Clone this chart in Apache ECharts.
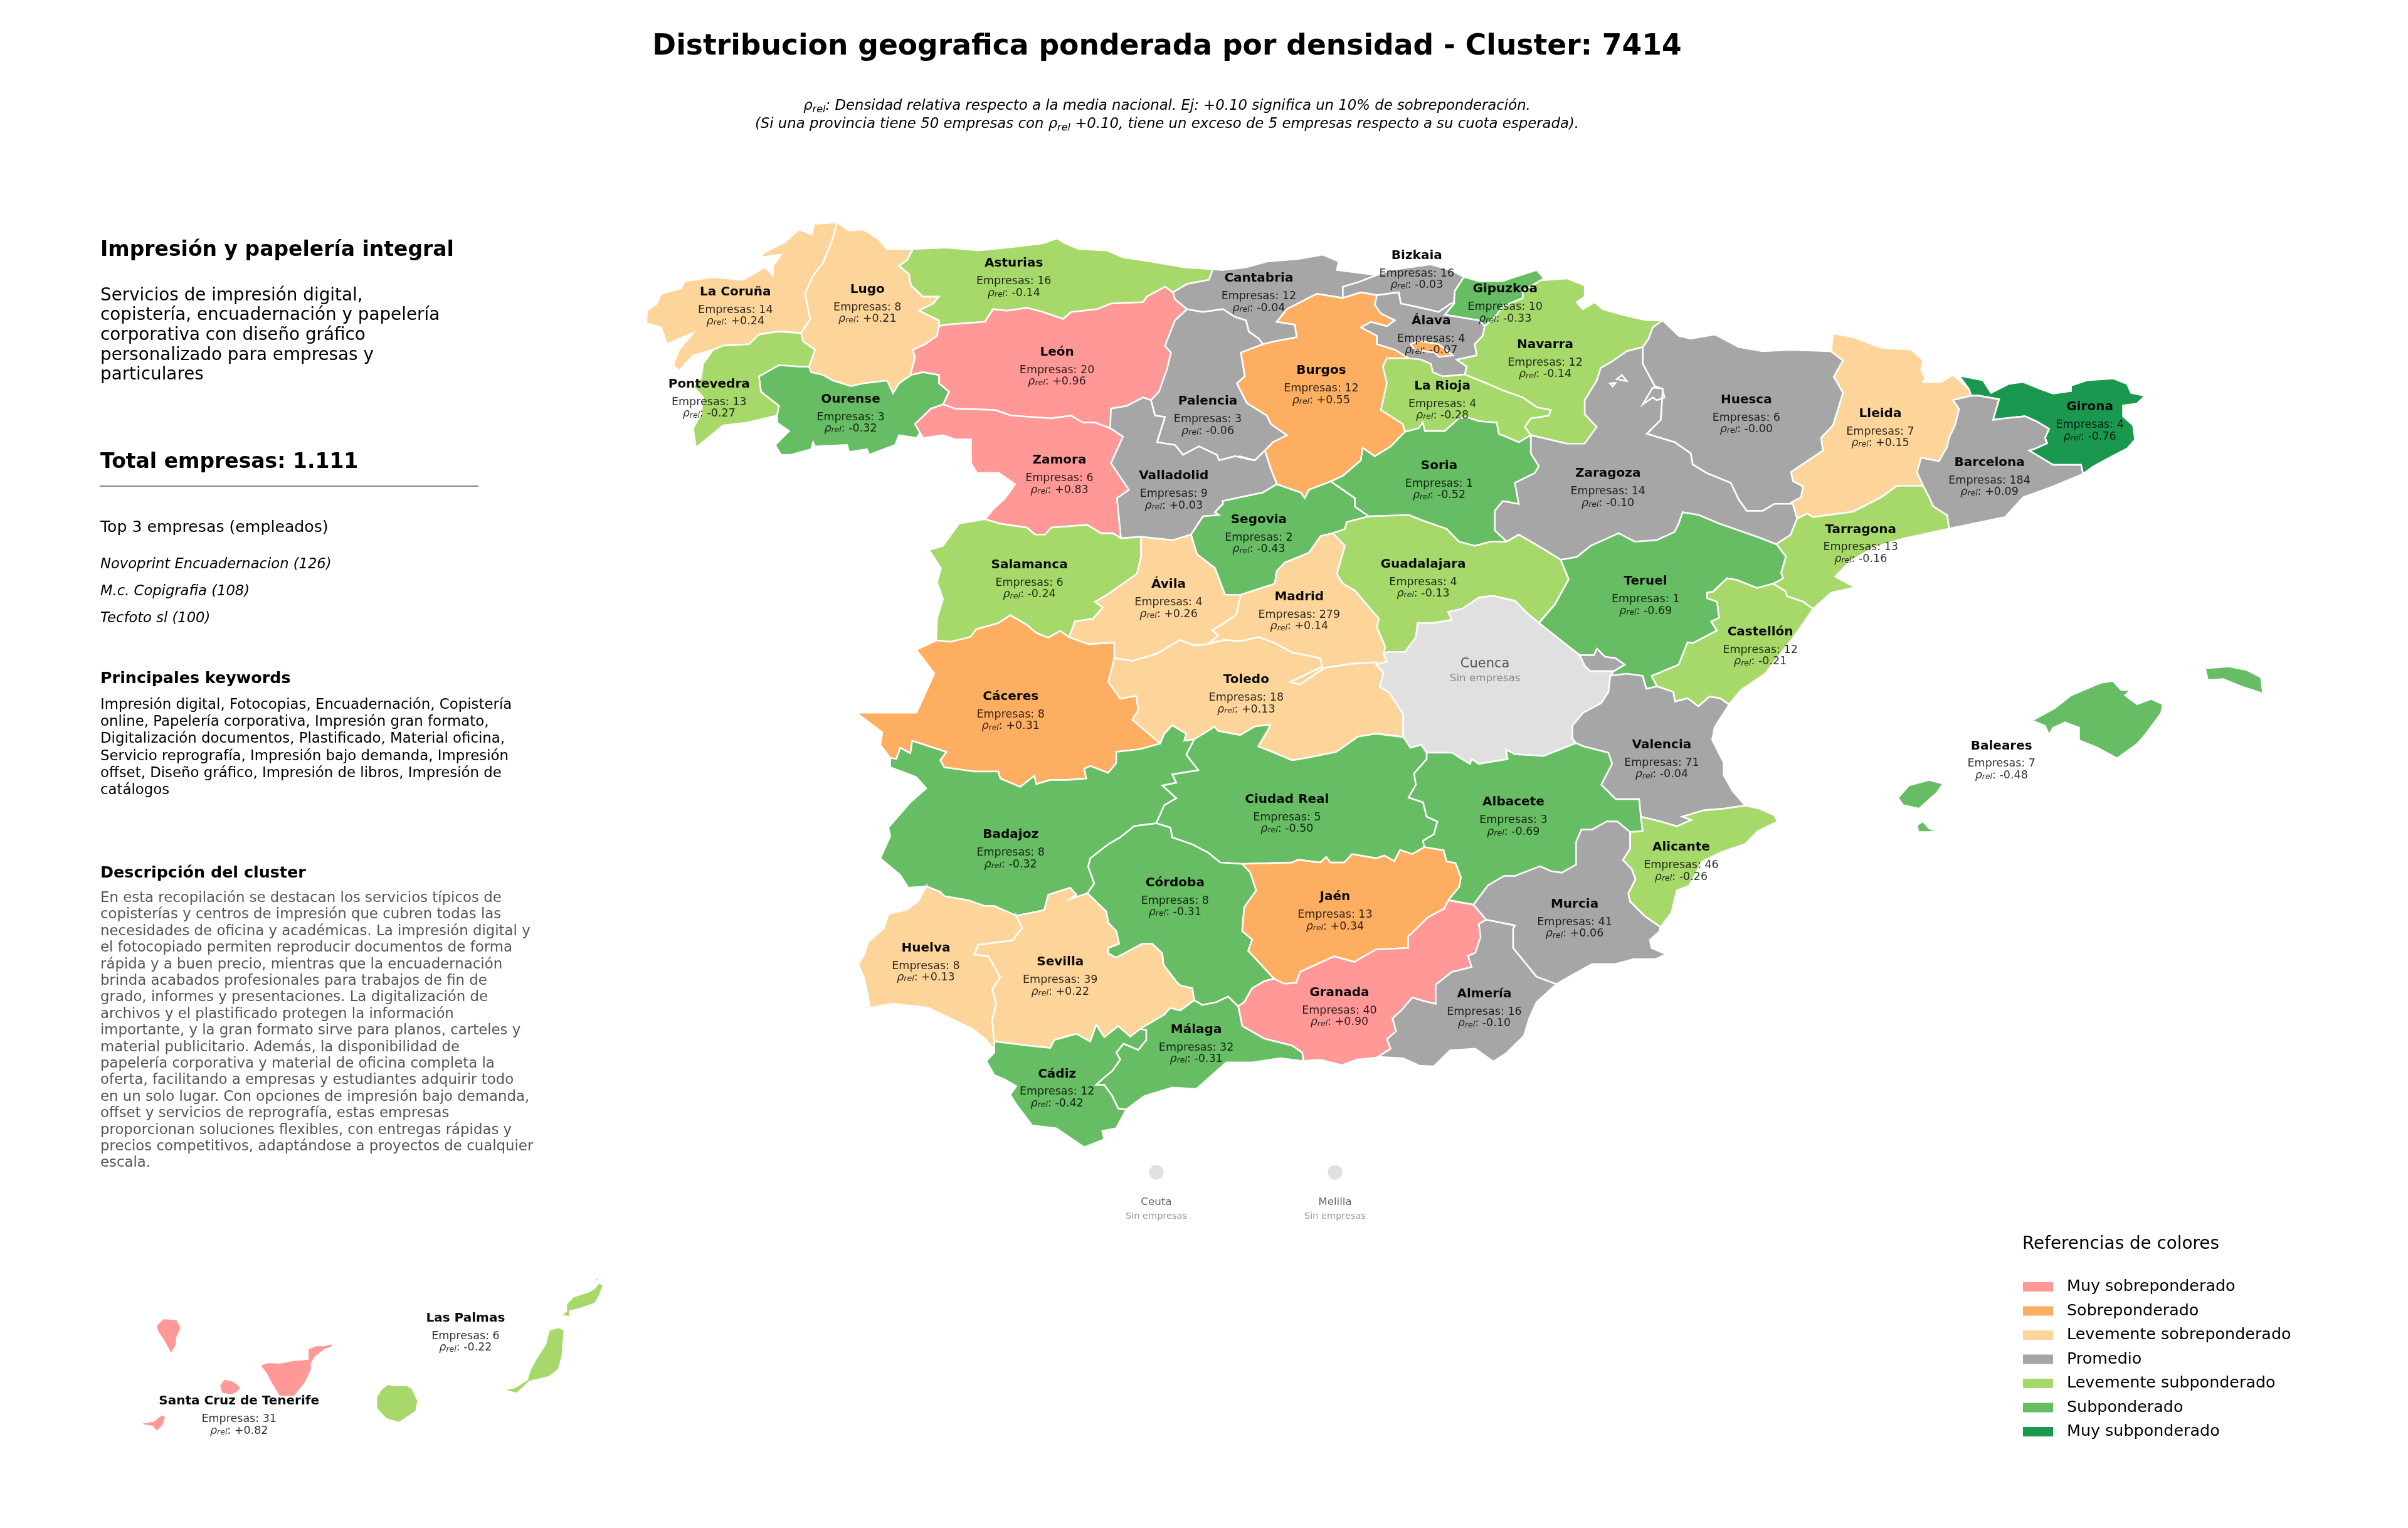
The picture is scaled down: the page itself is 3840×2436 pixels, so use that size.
<!DOCTYPE html>
<html>
<head>
<meta charset="utf-8">
<title>Distribucion geografica</title>
<script src="https://cdn.jsdelivr.net/npm/echarts@6/dist/echarts.min.js"></script>
<style>html,body{margin:0;background:#fff}#chart{width:3840px;height:2436px}</style>
</head>
<body>
<div id="chart"></div>
<script>
// ---- data ----
const provinces = ['Ceuta','Melilla','La Coruña','Lugo','Asturias','Cantabria','Bizkaia','Gipuzkoa','Álava','Navarra','La Rioja','Burgos','León','Pontevedra','Ourense','Palencia','Huesca','Lleida','Girona','Barcelona','Zaragoza','Zamora','Soria','Valladolid','Segovia','Tarragona','Salamanca','Guadalajara','Teruel','Ávila','Madrid','Castellón','Toledo','Cáceres','Cuenca','Valencia','Baleares','Ciudad Real','Albacete','Badajoz','Alicante','Córdoba','Jaén','Murcia','Huelva','Sevilla','Granada','Almería','Málaga','Cádiz','Las Palmas','Santa Cruz de Tenerife'];
const empresas = [null,null,14,8,16,12,16,10,4,12,4,12,20,13,3,3,6,7,4,184,14,6,1,9,2,13,6,4,1,4,279,12,18,8,null,71,7,5,3,8,46,8,13,41,8,39,40,16,32,12,6,31];
const rhoRel = [null,null,0.24,0.21,-0.14,-0.04,-0.03,-0.33,-0.07,-0.14,-0.28,0.55,0.96,-0.27,-0.32,-0.06,-0.004,0.15,-0.76,0.09,-0.10,0.83,-0.52,0.03,-0.43,-0.16,-0.24,-0.13,-0.69,0.26,0.14,-0.21,0.13,0.31,null,-0.04,-0.48,-0.50,-0.69,-0.32,-0.26,-0.31,0.34,0.06,0.13,0.22,0.90,-0.10,-0.31,-0.42,-0.22,0.82];

const tierLabels = ['Muy sobreponderado','Sobreponderado','Levemente sobreponderado','Promedio','Levemente subponderado','Subponderado','Muy subponderado'];
const tierColors = ['#FF9896','#FDAE61','#FDD49A','#A6A6A6','#A6D96A','#66BD63','#1A9850'];

const topCompanies = ['Novoprint Encuadernacion (126)','M.c. Copigrafia (108)','Tecfoto sl (100)'];
const summaryLines = ['Servicios de impresión digital,','copistería, encuadernación y papelería','corporativa con diseño gráfico','personalizado para empresas y','particulares'];
const keywordLines = ['Impresión digital, Fotocopias, Encuadernación, Copistería','online, Papelería corporativa, Impresión gran formato,','Digitalización documentos, Plastificado, Material oficina,','Servicio reprografía, Impresión bajo demanda, Impresión','offset, Diseño gráfico, Impresión de libros, Impresión de','catálogos'];
const descriptionLines = ['En esta recopilación se destacan los servicios típicos de','copisterías y centros de impresión que cubren todas las','necesidades de oficina y académicas. La impresión digital y','el fotocopiado permiten reproducir documentos de forma','rápida y a buen precio, mientras que la encuadernación','brinda acabados profesionales para trabajos de fin de','grado, informes y presentaciones. La digitalización de','archivos y el plastificado protegen la información','importante, y la gran formato sirve para planos, carteles y','material publicitario. Además, la disponibilidad de','papelería corporativa y material de oficina completa la','oferta, facilitando a empresas y estudiantes adquirir todo','en un solo lugar. Con opciones de impresión bajo demanda,','offset y servicios de reprografía, estas empresas','proporcionan soluciones flexibles, con entregas rápidas y','precios competitivos, adaptándose a proyectos de cualquier','escala.'];

// ---- map outline, traced by hand: no geojson available offline ----
// each trace is written in the pixels of the crop it was read from
const crops = {
  z1: [1000, 330, 1.568, 2.24], z2: [1950, 330, 1.568, 2.24], z3: [2700, 500, 1.568, 1.742],
  z4: [1340, 980, 1.568, 2.24], z5: [2100, 950, 1.742, 1.96], z6: [1340, 1350, 1.568, 2.24],
  z7: [100, 1950, 1.65, 3]
};
function at(crop, x, y) {
  const c = crops[crop];
  return [c[0] + x / c[2], c[1] + y / c[3]];
}
function tr(crop, str) {
  return str.trim().split(/\s+/).map(p => {
    const v = p.split(',').map(Number);
    return at(crop, v[0], v[1]);
  });
}

const arcs = {
  coruCoast: tr('z1', '525,55 468,60 462,98 430,80 395,125 340,165 335,180 385,170 365,210 365,245 345,215 290,260 215,250 145,265 135,290 85,310 75,345 50,370 48,415 85,430 100,490 130,470 165,450 130,510 115,565 130,585 165,530 215,510'),
  coruPont: tr('z1', '215,510 240,495 305,490 330,455 375,445 435,450'),
  coruLugo: tr('z1', '435,450 458,400 445,310 465,245 490,200 515,110 525,55'),
  lugoCoast: tr('z1', '525,55 555,85 590,80 625,110 650,150 715,150'),
  lugoAst: tr('z1', '715,150 700,190 680,210 705,240 710,280 740,320 780,320 765,345 730,370 780,405 780,425'),
  lugoLeon: tr('z1', '780,425 775,460 745,490 715,510 720,540 710,590 710,600'),
  lugoOur: tr('z1', '710,600 680,630 665,665 650,620 590,630 560,640 515,620 490,600 460,590 455,570'),
  lugoPont: tr('z1', '455,570 470,510 440,480 435,450'),
  astCoast: tr('z1', '715,150 800,145 880,155 950,145 1040,130 1075,112 1095,130 1130,150 1200,155 1240,180 1310,195 1390,215 1465,222'),
  astCant: tr('z1', '1465,222 1455,260 1400,275 1365,305'),
  astLeon: tr('z1', '1365,305 1345,285 1300,320 1290,340 1210,345 1175,365 1110,375 1090,400 1040,375 1000,360 950,370 915,365 895,410 800,420 780,425'),
  leonCant: tr('z1', '1365,305 1370,330 1400,365'),
  leonPal: tr('z1', '1400,365 1370,405 1355,460 1345,495 1360,520 1350,580 1330,660 1310,690'),
  leonVall: tr('z1', '1310,690 1290,680 1250,710 1210,720 1208,790'),
  leonZam: tr('z1', '1208,790 1170,770 1140,770 1110,745 1060,755 960,745 920,725 820,720 790,705'),
  leonOur: tr('z1', '790,705 805,660 780,630 780,600 740,590 710,600'),
  ourPont: tr('z1', '455,570 430,570 380,565 330,605 335,660 380,710 375,745'),
  ourSouth: tr('z1', '375,745 375,770 405,800 370,850 385,885 410,885 460,865 465,840 470,855 550,850 555,875 600,865 605,885 670,850 680,815 725,825 735,795 720,775'),
  ourZam: tr('z1', '720,775 760,720 790,705'),
  pontCoast: tr('z1', '215,510 190,560 185,610 165,640 190,680 185,740 165,790 172,860 215,810 240,780 300,770 375,745'),
  zamVall: tr('z1', '1208,790 1240,820 1210,915 1255,1010 1225,1040 1235,1183'),
  zamSal: tr('z1', '1235,1183 1215,1165 1185,1165 1150,1135 1060,1145 1045,1170 1020,1170 1000,1145 930,1130 895,1115'),
  zamWest: tr('z1', '895,1115 915,1080 945,1040 970,990 930,950 875,950 860,915 860,830 820,830 790,815 740,825 720,775'),
  salVall: tr('z1', '1235,1183 1285,1178'),
  salAvila: tr('z1', '1285,1178 1285,1250 1275,1310 1240,1345 1200,1385 1170,1410 1190,1430 1165,1470 1120,1480 1105,1537'),
  salCac: tr('z4', '572,80 550,58 520,82 490,65 465,35 425,2 395,30 340,52 325,80 275,97 240,92'),
  salWest: tr('z1', '773,1545 775,1470 790,1400 775,1340 785,1290 755,1225 790,1210 830,1130 895,1115'),
  vallPal: tr('z1', '1310,690 1320,745 1345,750 1325,840 1370,850 1390,885 1430,855 1475,885 1480,905 1520,890 1568,905').concat(tr('z2', '40,890 80,905 105,870')),
  vallBur: tr('z2', '105,870 120,935 135,990'),
  vallSeg: tr('z2', '135,990 100,1020 50,1035 0,1050').concat(tr('z1', '1490,1060 1470,1090 1480,1100 1440,1105 1410,1170')),
  vallAvila: tr('z1', '1410,1170 1365,1190 1285,1178'),
  palCant: tr('z1', '1400,365 1440,375 1490,365').concat(tr('z2', '30,392 58,405 65,445 90,470 100,490')),
  palBur: tr('z2', '100,490 45,520 55,605 35,630 60,700 110,745 120,775 160,815 125,840 105,870'),
  cantCoast: tr('z2', '-25,222 0,225 60,215 110,195 190,185 250,170 290,195 285,225 340,235 385,243'),
  cantBiz: tr('z2', '385,243 340,268 300,285 300,325'),
  cantBur: tr('z2', '300,325 235,310 160,365 135,410 180,420 185,465 130,480 100,490'),
  bizCoast: tr('z2', '385,243 420,225 470,215 520,205 570,225 603,250'),
  bizGip: tr('z2', '603,250 580,300 578,345'),
  bizAla: tr('z2', '578,345 570,345 540,375 480,355 445,345 440,305 385,315'),
  bizBur: tr('z2', '385,315 345,305 300,325'),
  alaGip: tr('z2', '578,345 555,385 640,405 655,425'),
  alaNav: tr('z2', '655,425 650,460 630,490 635,530 585,545 610,570 605,598'),
  alaRio: tr('z2', '605,598 550,605 525,590 520,560 495,545 465,540'),
  alaBur: tr('z2', '465,540 430,510 385,490 385,460 345,430 370,410 410,425 430,405 395,380 380,350 385,315'),
  burRio: tr('z2', '465,540 410,540 400,570 410,630 395,725 450,775 455,803'),
  burSor: tr('z2', '455,803 420,855 380,890 350,860 345,905 300,960 270,980'),
  burSeg: tr('z2', '270,980 215,1010 205,1040 195,1020 135,990'),
  gipCoast: tr('z2', '603,250 640,265 700,265 730,250 785,225 803,255 795,262'),
  gipNav: tr('z2', '795,262 750,300 750,325 700,355 680,395 655,425'),
  navCoast: tr('z2', '795,262 830,258 860,255 905,280 905,320 885,340 900,365 930,340 950,365 1000,385 1060,405 1100,405'),
  navHue: tr('z2', '1100,405 1075,430 1065,470 1050,500'),
  navZar: tr('z2', '1050,500 1010,515 975,550 945,575 935,620 905,690 905,740 935,785 905,845 860,845 800,825 770,815'),
  navRio: tr('z2', '770,815 755,785 770,755 815,745 820,725 785,715 750,680 700,655 660,630 605,598'),
  rioSor: tr('z2', '770,815 740,840 690,810 685,770 640,765 610,750 590,755 555,800 505,800 500,770 490,790 455,803'),
  sorSeg: tr('z2', '270,980 300,1010 330,1040 330,1070 365,1105'),
  sorGua: tr('z2', '365,1105 465,1100 500,1120 560,1150 590,1195 630,1210 670,1195 710,1195'),
  sorZar: tr('z2', '710,1195 680,1155 680,1085 700,1050 740,1060 730,985 780,950 790,925 770,880 770,815'),
  segAvila: tr('z1', '1410,1170 1425,1240 1470,1290 1495,1385').concat(tr('z2', '45,1385')),
  segMad: tr('z2', '45,1385 130,1345 135,1300 155,1270 215,1235 245,1175 275,1165'),
  segGua: tr('z2', '275,1165 305,1150 310,1125 365,1105'),
  avCac: tr('z4', '572,80 620,105 685,100 685,155'),
  avTol: tr('z4', '685,155 730,165 790,140 850,90 885,110 920,105'),
  avMad: tr('z4', '920,105 945,75 930,55 960,30 990,0').concat(tr('z2', '45,1385')),
  madGua: tr('z2', '275,1165 305,1210 285,1310 300,1345 330,1370 390,1470 385,1500').concat(tr('z5', '190,160 185,180')),
  madCue: tr('z5', '185,180 195,205 165,215'),
  madTol: tr('z4', '1340,170 1280,175 1210,190 1150,250 1125,240 1205,185 1200,155 1130,135 1085,100 1045,80 1000,95 960,90 920,105'),
  cueTol: tr('z5', '165,215 185,240 175,285 200,300 240,370 240,440'),
  tolCR: tr('z4', '1408,437 1340,425 1295,435 1240,490 1170,510 1130,520 1080,490 1045,470 1070,410 1075,392 1035,400 1000,430 945,415 935,400 925,410 885,445'),
  tolBad: tr('z4', '885,445 860,450 865,425 830,395 810,425 800,460'),
  cacTol: tr('z4', '800,460 730,375 745,340 740,290 700,300 670,240 685,155'),
  cueGua: tr('z5', '185,180 200,175 245,175 275,130 280,85 320,85 375,75 365,50 405,40 450,5 490,0 550,15 585,55 617,85'),
  cueTer: tr('z5', '617,85 690,150 730,185'),
  cueAde: tr('z5', '730,185 745,220 760,235 825,235 815,250'),
  cueVal: tr('z5', '815,250 810,300 790,335 740,365 710,405 710,445 720,460'),
  cueAlb: tr('z5', '720,460 630,500 550,495 525,480 530,510 450,525 430,510 425,525 375,490 305,490'),
  cueCR: tr('z5', '305,490 290,465 260,475 240,440'),
  guaZar: tr('z2', '710,1195 740,1170 800,1220 845,1260'),
  guaTer: tr('z2', '845,1260 865,1330 830,1420 790,1485'),
  zarHue: tr('z2', '1050,500 1050,560 1080,640 1100,650 1095,760 1060,810 1130,840 1170,880 1175,920 1210,950 1270,985 1290,1045 1310,1085 1350,1085 1380,1060 1425,1060'),
  zarLle: tr('z2', '1425,1060 1436,1113'),
  zarTar: tr('z2', '1436,1113 1420,1170 1385,1205'),
  zarTer: tr('z2', '1385,1205 1340,1180 1240,1130 1190,1100 1150,1090 1140,1130 1130,1160 1085,1190 1030,1195 990,1165 920,1210 885,1250 845,1260'),
  huTop: tr('z2', '1100,405 1140,460 1170,470 1230,455 1290,500 1350,515 1420,510 1516,515'),
  huLle: tr('z3', '345,105 375,130 352,175 375,220 350,310 320,345 325,380 245,440 250,465 275,480 270,510 245,525'),
  lleTop: tr('z3', '345,105 350,55 400,65 470,95 545,100 575,130 570,155 580,180 575,190 620,190 650,170 690,210 695,228'),
  lleBar: tr('z3', '695,228 650,240 665,265 655,310 640,345 635,370 615,410 570,400 560,440 575,478'),
  lleTar: tr('z3', '575,478 510,478 470,510 400,550 300,565 285,555 260,570'),
  girNorth: tr('z3', '695,228 690,210 665,172 725,185 745,220 790,195 825,190 870,210 900,222 945,215 945,200 985,185 1050,180 1085,195 1095,220 1130,228 1110,250 1075,255 1075,285 1100,310 1105,350 1085,375 1050,395 1000,425 975,445'),
  girBar: tr('z3', '975,445 970,420 900,420 840,380 855,375 885,360 880,345 890,320 860,300 830,285 785,290 750,295 755,275 765,238 715,228 695,228'),
  barTar: tr('z3', '575,478 590,510 600,535 635,560 640,597'),
  barCoast: tr('z3', '640,597 780,565 825,510 900,480 975,445'),
  tarCoast: tr('z3', '640,597 525,625 450,650 390,690 355,730 405,760 345,775 300,820'),
  tarCas: tr('z3', '300,820 275,800 235,785 230,770 200,750'),
  tarTer: tr('z3', '200,750 225,735 220,720 232,675 208,640'),
  terCas: tr('z3', '200,750 160,762 110,740 85,735 50,772 35,775 35,790 60,800 65,845 45,855 60,880 0,915').concat(tr('z5', '1030,145 1005,215 930,250 945,283')),
  terVal: tr('z5', '945,283 915,290 905,250 860,243 815,250'),
  terAde: tr('z5', '815,250 825,235 855,215 830,195 800,190 778,165 770,185 730,185'),
  casCoast: tr('z3', '300,820 250,900 180,1000 120,1045 90,1085'),
  casVal: tr('z5', '1145,340 1120,320 1090,315 1060,345 1030,320 995,330 990,300 945,283'),
  valCoast: tr('z5', '1145,340 1105,410 1098,450 1130,520 1130,560 1155,610 1190,655'),
  valAli: tr('z5', '1190,655 1130,665 1075,670 1015,690 1040,700 1000,720 955,705 900,690'),
  valAlb: tr('z5', '900,690 895,635 830,635 790,590 820,525 810,490 740,470 720,460'),
  aliCoast: tr('z5', '1190,655 1230,665 1270,685 1280,705 1225,735 1190,775 1125,800 1070,830 1035,905 1000,920 985,990 955,1035'),
  aliMur: tr('z5', '955,1035 910,1000 870,955 865,930 885,885 875,855 850,825 870,790 870,738'),
  aliAlb: tr('z5', '870,738 905,735 900,690'),
  murCoast: tr('z5', '955,1035 950,1050 925,1075 930,1100 970,1120 940,1135 880,1135 830,1150 765,1150 725,1175 665,1213'),
  murAlm: tr('z5', '665,1213 610,1190 545,1100 545,1040 550,1030 470,1012'),
  murGra: tr('z5', '470,1012 435,965'),
  murAlb: tr('z5', '435,965 475,905 520,875 550,875 620,845 650,860 680,865 720,840 720,770 735,730 765,730 805,705 835,705 870,738'),
  albGra: tr('z5', '435,965 365,950'),
  albJae: tr('z5', '365,950 395,910 400,880 385,835 360,830 352,795 298,785'),
  albCR: tr('z5', '298,785 295,765 325,745 335,705 305,690 295,645 255,630 275,590 270,555 305,510 305,490'),
  crJae: tr('z4', '1460,830 1430,855 1400,840 1385,880 1360,860 1340,870 1280,855 1260,885 1225,885 1215,865 1200,885 1145,875 1130,885 1005,890'),
  crCor: tr('z4', '1005,890 950,885 920,850 880,820 830,795 825,760 790,745'),
  crBad: tr('z4', '790,745 810,680 840,655 805,610 840,600 830,570 895,555 865,500 885,445'),
  jaeGra: tr('z4', '1520,1020 1510,1050 1470,1080 1420,1150 1420,1190 1340,1195 1285,1240 1235,1220 1150,1275 1140,1315 1110,1318 1085,1300'),
  jaeCor: tr('z4', '1085,1300 1020,1200 1030,1160 1005,1130 1010,1045 1040,985 1025,920 1005,890'),
  graAlm: tr('z5', '470,1012 450,1025 455,1065 440,1115 420,1125 430,1160 375,1175 330,1215 330,1275 295,1265 265,1255 235,1295 210,1320 220,1360 195,1385 205,1415 170,1440'),
  graCoast: tr('z6', '1345,752 1290,760 1255,780 1200,760 1158,765'),
  graMal: tr('z6', '1158,765 1155,735 1130,710 1060,685 1005,640 995,570'),
  corGra: tr('z6', '995,570 1010,555 1030,505 1060,480 1085,471'),
  almCoast: tr('z5', '665,1213 610,1270 590,1320 575,1375 525,1430 490,1455 440,1415 370,1420 325,1470 285,1468 240,1445 170,1440'),
  badCor: tr('z4', '790,745 735,755 700,795 670,820 625,870 620,900 635,960 618,995'),
  corSev: tr('z4', '618,995 665,1060 670,1100 690,1130 697,1175 670,1190 670,1210 690,1225 755,1175 780,1175 805,1210 808,1250 840,1310').concat(tr('z6', '850,495 880,505 885,548')),
  corMal: tr('z6', '885,548 905,565 940,555 970,535 995,570'),
  badSev: tr('z4', '618,995 575,1015 590,1000 575,975 520,1000 510,1055 440,1075'),
  badHue: tr('z4', '440,1075 385,1040 360,1040 320,1020 260,1005 250,990 215,970'),
  badWest: tr('z4', '215,970 170,975 150,930 100,870 125,790 120,760 175,670 215,620 190,580 125,545 125,512'),
  badCac: tr('z4', '125,512 140,515 150,475 175,495 180,450 265,490 250,520 260,545 335,560 395,560 400,585 450,615 485,575 490,605 525,590 570,590 615,585 610,550 625,540 670,565 690,530 690,490 750,480 800,460'),
  cacWest: tr('z4', '240,92 190,125 235,210 200,320 190,350 40,350 105,420 100,465 125,512'),
  sevHue: tr('z6', '440,246 455,290 430,335 345,350 335,385 370,390 400,465 380,510 390,560 380,620 385,695'),
  huCad: tr('z6', '385,695 390,733'),
  huCoast: tr('z6', '390,733 365,690 330,650 220,575 130,560 75,575 60,470 45,420 60,385 70,340 110,290 120,240 165,225 195,195 215,141'),
  sevMal: tr('z6', '885,548 850,585 825,575 810,600 750,650'),
  sevCad: tr('z6', '750,650 725,678 695,640 660,680 640,635 625,695 590,668 535,690 525,718 470,710 385,695'),
  cadMal: tr('z6', '750,650 765,655 765,690 745,725 708,703 690,735 700,760 680,800 655,830 640,850 660,850 680,890 695,935 715,938'),
  cadCoast: tr('z6', '715,938 690,1005 655,1015 660,1045 610,1073 540,1005 480,995 440,920 425,885 440,855 410,830 385,815 365,765 385,735'),
  malCoast: tr('z6', '1158,765 1100,755 1030,770 965,770 890,865 830,860 760,890 715,938')
};

// a ring is a list of arc names, '-' walks the arc backwards
function ring(names) {
  let out = [];
  names.split(' ').forEach(n => {
    const rev = n[0] === '-';
    const a = arcs[rev ? n.slice(1) : n];
    out = out.concat(rev ? a.slice().reverse() : a);
  });
  out.push(out[0]);
  return out;
}
function shape(crop, str) {
  const p = tr(crop, str);
  p.push(p[0]);
  return p;
}
function disc(cx, cy, r) {
  const p = [];
  for (let i = 0; i <= 36; i++) p.push([cx + r * Math.cos(i * Math.PI / 18), cy + r * Math.sin(i * Math.PI / 18)]);
  return p;
}

const outlines = {
  'Ceuta': [disc(1844, 1869, 13), shape('z6', '770,992 780,996 776,999')],
  'Melilla': [disc(2129, 1869, 13), shape('z6', '1250,1035 1255,1035 1254,1045 1250,1044')],
  'La Coruña': [ring('coruCoast coruPont coruLugo')],
  'Lugo': [ring('lugoCoast lugoAst lugoLeon lugoOur lugoPont coruLugo')],
  'Asturias': [ring('astCoast astCant astLeon -lugoAst')],
  'Cantabria': [ring('-astCant cantCoast cantBiz cantBur -palCant -leonCant')],
  'Bizkaia': [ring('bizCoast bizGip bizAla bizBur -cantBiz')],
  'Gipuzkoa': [ring('gipCoast gipNav -alaGip -bizGip')],
  'Álava': [ring('-bizAla alaGip alaNav alaRio alaBur')],
  'Navarra': [ring('navCoast navHue navZar navRio -alaNav -gipNav')],
  'La Rioja': [ring('-alaRio -navRio rioSor -burRio')],
  'Burgos': [ring('-alaBur burRio burSor burSeg -vallBur -palBur -cantBur -bizBur'), shape('z2', '470,490 490,478 540,490 575,530 540,535 530,520 480,510')],
  'León': [ring('-astLeon leonCant leonPal leonVall leonZam leonOur -lugoLeon')],
  'Pontevedra': [ring('-coruPont pontCoast -ourPont lugoPont')],
  'Ourense': [ring('lugoOur ourPont ourSouth ourZam leonOur')],
  'Palencia': [ring('-vallPal -leonPal palCant palBur')],
  'Huesca': [ring('huTop huLle -zarHue -navHue')],
  'Lleida': [ring('lleTop lleBar lleTar -zarLle -huLle')],
  'Girona': [ring('girNorth girBar')],
  'Barcelona': [ring('lleBar barTar barCoast girBar')],
  'Zaragoza': [ring('-navZar zarHue zarLle zarTar zarTer -guaZar sorZar'), shape('z2', '985,615 998,600 1010,622'), shape('z2', '968,630 982,628 975,640'), shape('z2', '1050,705 1075,645 1098,648 1105,680 1085,690 1075,680')],
  'Zamora': [ring('-leonZam zamVall zamSal zamWest ourZam')],
  'Soria': [ring('burSor sorSeg sorGua sorZar rioSor')],
  'Valladolid': [ring('-leonVall vallPal vallBur vallSeg vallAvila -salVall -zamVall')],
  'Segovia': [ring('-sorSeg burSeg vallSeg segAvila segMad segGua')],
  'Tarragona': [ring('-lleTar barTar tarCoast tarCas tarTer -zarTar')],
  'Salamanca': [ring('-zamSal salVall salAvila salCac salWest')],
  'Guadalajara': [ring('sorGua guaZar guaTer -cueGua -madGua segGua')],
  'Teruel': [ring('-zarTer -tarTer terCas terVal terAde -cueTer -guaTer')],
  'Ávila': [ring('vallAvila salAvila avCac avTol avMad -segAvila')],
  'Madrid': [ring('segMad madGua madCue madTol avMad')],
  'Castellón': [ring('-terCas -tarCas casCoast casVal')],
  'Toledo': [ring('-madTol cueTol tolCR tolBad cacTol avTol')],
  'Cáceres': [ring('salCac cacWest badCac cacTol -avCac')],
  'Cuenca': [ring('cueGua cueTer cueAde cueVal cueAlb cueCR -cueTol -madCue')],
  'Valencia': [ring('-terVal -casVal valCoast valAli valAlb -cueVal'), shape('z5', '730,185 770,185 778,165 800,190 830,195 855,215 825,235 760,235 745,220')],
  'Baleares': [
    shape('z3', '848,1130 905,1095 945,1060 1020,1025 1050,1020 1070,1045 1095,1045 1080,1060 1110,1085 1145,1070 1175,1085 1170,1110 1130,1170 1110,1195 1060,1235 1010,1205 965,1185 965,1150 930,1135 900,1150 890,1170 880,1145'),
    shape('z3', '1280,985 1340,980 1385,990 1420,1010 1425,1055 1370,1035 1325,1015 1287,1018'),
    shape('z3', '512,1345 540,1310 590,1295 625,1305 610,1330 565,1375 525,1365'),
    shape('z3', '560,1420 575,1410 590,1430 615,1435 590,1440 563,1440')
  ],
  'Ciudad Real': [ring('-tolCR -cueCR -albCR crJae crCor crBad')],
  'Albacete': [ring('-cueAlb -valAlb -aliAlb -murAlb albGra albJae albCR')],
  'Badajoz': [ring('-crBad badCor badSev badHue badWest badCac -tolBad')],
  'Alicante': [ring('-valAli aliCoast aliMur aliAlb')],
  'Córdoba': [ring('crCor badCor corSev corMal corGra jaeCor')],
  'Jaén': [ring('-crJae -albJae jaeGra jaeCor')],
  'Murcia': [ring('-aliMur murCoast murAlm murGra murAlb')],
  'Huelva': [ring('-badHue sevHue huCad huCoast')],
  'Sevilla': [ring('-badSev corSev sevMal sevCad -sevHue')],
  'Granada': [ring('-jaeGra -albGra -murGra graAlm graCoast graMal corGra')],
  'Almería': [ring('-murAlm almCoast -graAlm')],
  'Málaga': [ring('-sevMal corMal -graMal malCoast -cadMal')],
  'Cádiz': [ring('-sevCad cadMal cadCoast')],
  'Las Palmas': [
    shape('z7', '855,770 875,775 905,775 920,790 935,850 930,900 885,955 850,935 825,885 825,830 840,790'),
    shape('z7', '1158,798 1190,785 1222,748 1230,700 1245,650 1270,580 1280,510 1305,498 1320,510 1315,630 1305,700 1280,735 1228,758 1195,815'),
    shape('z7', '1312,440 1325,420 1325,385 1345,350 1385,327 1400,310 1410,285 1423,295 1412,350 1400,385 1360,410 1335,420 1335,450'),
    shape('z7', '1400,270 1405,258 1410,270 1405,280')
  ],
  'Santa Cruz de Tenerife': [
    shape('z7', '245,490 265,455 300,460 312,500 300,550 300,580 285,628 265,560 250,520'),
    shape('z7', '412,775 425,745 450,755 470,785 460,810 445,822 418,815'),
    shape('z7', '518,678 540,665 570,668 610,655 645,650 645,600 665,585 690,585 705,575 713,590 690,605 665,640 655,670 655,700 640,760 610,830 570,830 550,770 535,720'),
    shape('z7', '210,955 240,945 260,915 272,925 265,965 248,998 235,972 210,965')
  ]
};

// where each province name sits
const nameAt = {
  'La Coruña': at('z1',271,300), 'Lugo': at('z1',601,291), 'Asturias': at('z1',967,198), 'León': at('z1',1075,515),
  'Pontevedra': at('z1',205,630), 'Ourense': at('z1',559,683), 'Zamora': at('z1',1081,902), 'Valladolid': at('z1',1367,958),
  'Salamanca': at('z1',1006,1275), 'Ávila': at('z1',1354,1345), 'Palencia': at('z1',1452,691),
  'Cantabria': at('z2',90,252), 'Bizkaia': at('z2',485,170), 'Gipuzkoa': at('z2',706,290), 'Álava': at('z2',521,403),
  'Navarra': at('z2',806,489), 'La Rioja': at('z2',549,636), 'Burgos': at('z2',246,581), 'Soria': at('z2',541,921),
  'Zaragoza': at('z2',963,949), 'Huesca': at('z2',1309,685), 'Segovia': at('z2',90,1114), 'Guadalajara': at('z2',501,1272),
  'Madrid': at('z2',191,1389), 'Teruel': at('z2',1057,1334),
  'Lleida': at('z3',468,275), 'Girona': at('z3',992,257), 'Barcelona': at('z3',741,411), 'Tarragona': at('z3',419,597),
  'Castellón': at('z3',168,882), 'Baleares': at('z3',771,1198),
  'Cáceres': at('z4',426,289), 'Toledo': at('z4',1015,230), 'Ciudad Real': at('z4',1117,656), 'Badajoz': at('z4',426,783),
  'Córdoba': at('z4',837,954), 'Jaén': at('z4',1237,1005), 'Huelva': at('z4',214,1187), 'Sevilla': at('z4',550,1238),
  'Granada': at('z4',1248,1347), 'Málaga': at('z4',890,1478), 'Cádiz': at('z6',542,808),
  'Valencia': at('z5',958,463), 'Albacete': at('z5',546,642), 'Alicante': at('z5',1012,783), 'Murcia': at('z5',716,961),
  'Almería': at('z5',465,1241), 'Las Palmas': at('z7',1060,450), 'Santa Cruz de Tenerife': at('z7',464,848)
};
// the empty ones have two lines only, so the anchor is the middle of the block
const emptyAt = { 'Cuenca': at('z5',467,236), 'Ceuta': [1844, 1928], 'Melilla': [2129, 1928] };

const FONT = 'DejaVu Sans';
const geoJson = {
  type: 'FeatureCollection',
  features: provinces.map(name => {
    const p = nameAt[name];
    return {
      type: 'Feature',
      properties: { name: name, cp: p ? [p[0], p[1] + 20] : emptyAt[name] },
      geometry: { type: 'MultiPolygon', coordinates: outlines[name].map(r => [r]) }
    };
  })
};
echarts.registerMap('spain', geoJson);

function labelFor(params) {
  const i = provinces.indexOf(params.name);
  if (empresas[i] === null) {
    return params.name === 'Cuenca' ? '{cn|Cuenca}\n{cs|Sin empresas}' : '{dn|' + params.name + '}\n{ds|Sin empresas}';
  }
  const rho = rhoRel[i];
  const txt = (rho >= 0 ? '+' : '') + rho.toFixed(2);
  return '{n|' + params.name + '}\n{e|Empresas: ' + empresas[i] + '}\n{r|ρ}{s|rel}{e|: ' + txt + '}';
}

function text(x, y, str, size, extra) {
  return {
    type: 'text', x: x, y: y, silent: true,
    style: Object.assign({ text: str, fontFamily: FONT, fontSize: size, fill: '#000', align: 'left', verticalAlign: 'middle' }, extra || {})
  };
}
const panel = [];
panel.push(text(1861, 75, 'Distribucion geografica ponderada por densidad - Cluster: 7414', 45.6, { fontWeight: 'bold', align: 'center' }));
const subRich = {
  r: { fontFamily: FONT, fontSize: 22.8, fontStyle: 'italic', fill: '#000' },
  s: { fontFamily: FONT, fontSize: 16, fontStyle: 'italic', fill: '#000', verticalAlign: 'bottom', lineHeight: 27 },
  i: { fontFamily: FONT, fontSize: 22.8, fontStyle: 'italic', fill: '#000' }
};
panel.push(text(1861, 169, '{r|ρ}{s|rel}{i|: Densidad relativa respecto a la media nacional. Ej: +0.10 significa un 10% de sobreponderación.}', 22.8, { align: 'center', rich: subRich }));
panel.push(text(1861, 198, '{i|(Si una provincia tiene 50 empresas con }{r|ρ}{s|rel}{i| +0.10, tiene un exceso de 5 empresas respecto a su cuota esperada).}', 22.8, { align: 'center', rich: subRich }));

panel.push(text(160, 399, 'Impresión y papelería integral', 33, { fontWeight: 'bold' }));
summaryLines.forEach((l, i) => panel.push(text(160, 471.5 + i * 31.6, l, 27.8)));
panel.push(text(160, 737, 'Total empresas: 1.111', 33, { fontWeight: 'bold' }));
panel.push({ type: 'line', silent: true, shape: { x1: 159, y1: 775, x2: 763, y2: 775 }, style: { stroke: '#888', lineWidth: 2 } });
panel.push(text(160, 841, 'Top 3 empresas (empleados)', 25.2));
topCompanies.forEach((l, i) => panel.push(text(160, 900 + i * 43, l, 22.65, { fontStyle: 'italic' })));
panel.push(text(160, 1082, 'Principales keywords', 25.4, { fontWeight: 'bold' }));
keywordLines.forEach((l, i) => panel.push(text(160, 1124 + i * 27.2, l, 22.85)));
panel.push(text(160, 1392, 'Descripción del cluster', 25.4, { fontWeight: 'bold' }));
descriptionLines.forEach((l, i) => panel.push(text(160, 1432 + i * 26.4, l, 22.85, { fill: '#555' })));
panel.push(text(3225, 1984, 'Referencias de colores', 27.8));

const chart = echarts.init(document.getElementById('chart'), null, { renderer: 'canvas' });
chart.setOption({
  animation: false,
  backgroundColor: '#fff',
  graphic: panel,
  tooltip: { show: false },
  visualMap: {
    type: 'piecewise',
    seriesIndex: 0,
    orient: 'vertical',
    align: 'left',
    left: 3226,
    top: 2039,
    padding: 0,
    itemWidth: 48,
    itemHeight: 15,
    itemGap: 13.5,
    textGap: 22,
    itemSymbol: 'rect',
    selectedMode: false,
    hoverLink: false,
    textStyle: { fontFamily: FONT, fontSize: 25.4, color: '#000' },
    outOfRange: { color: '#E0E0E0' },
    pieces: [
      { gt: 0.75, label: tierLabels[0], color: tierColors[0] },
      { gt: 0.30, lte: 0.75, label: tierLabels[1], color: tierColors[1] },
      { gt: 0.10, lte: 0.30, label: tierLabels[2], color: tierColors[2] },
      { gte: -0.10, lte: 0.10, label: tierLabels[3], color: tierColors[3] },
      { gte: -0.30, lt: -0.10, label: tierLabels[4], color: tierColors[4] },
      { gte: -0.75, lt: -0.30, label: tierLabels[5], color: tierColors[5] },
      { lt: -0.75, label: tierLabels[6], color: tierColors[6] }
    ]
  },
  series: [{
    type: 'map',
    map: 'spain',
    projection: { project: p => p, unproject: p => p },
    boundingCoords: [[0, 0], [3840, 2436]],
    left: 0, top: 0, width: 3840, height: 2436,
    aspectScale: 1,
    roam: false,
    silent: true,
    itemStyle: { areaColor: '#E0E0E0', borderColor: '#fff', borderWidth: 2.6 },
    label: {
      show: true,
      formatter: labelFor,
      fontFamily: FONT,
      rich: {
        n: { fontFamily: FONT, fontSize: 20, fontWeight: 'bold', color: '#0a0a0a', lineHeight: 38.8 },
        e: { fontFamily: FONT, fontSize: 17.5, color: 'rgba(0,0,0,0.82)', lineHeight: 18.4 },
        r: { fontFamily: FONT, fontSize: 17.5, fontStyle: 'italic', color: 'rgba(0,0,0,0.82)', lineHeight: 18.4 },
        s: { fontFamily: FONT, fontSize: 12.5, fontStyle: 'italic', color: 'rgba(0,0,0,0.82)', lineHeight: 18.4, verticalAlign: 'bottom' },
        cn: { fontFamily: FONT, fontSize: 21, color: '#555', lineHeight: 23.5 },
        cs: { fontFamily: FONT, fontSize: 16.7, color: '#888', lineHeight: 23.5 },
        dn: { fontFamily: FONT, fontSize: 16.7, color: '#666', lineHeight: 23 },
        ds: { fontFamily: FONT, fontSize: 14.5, color: '#999', lineHeight: 23 }
      }
    },
    data: provinces.map((name, i) => ({ name: name, value: rhoRel[i] === null ? NaN : rhoRel[i] }))
  }]
});
</script>
</body>
</html>
